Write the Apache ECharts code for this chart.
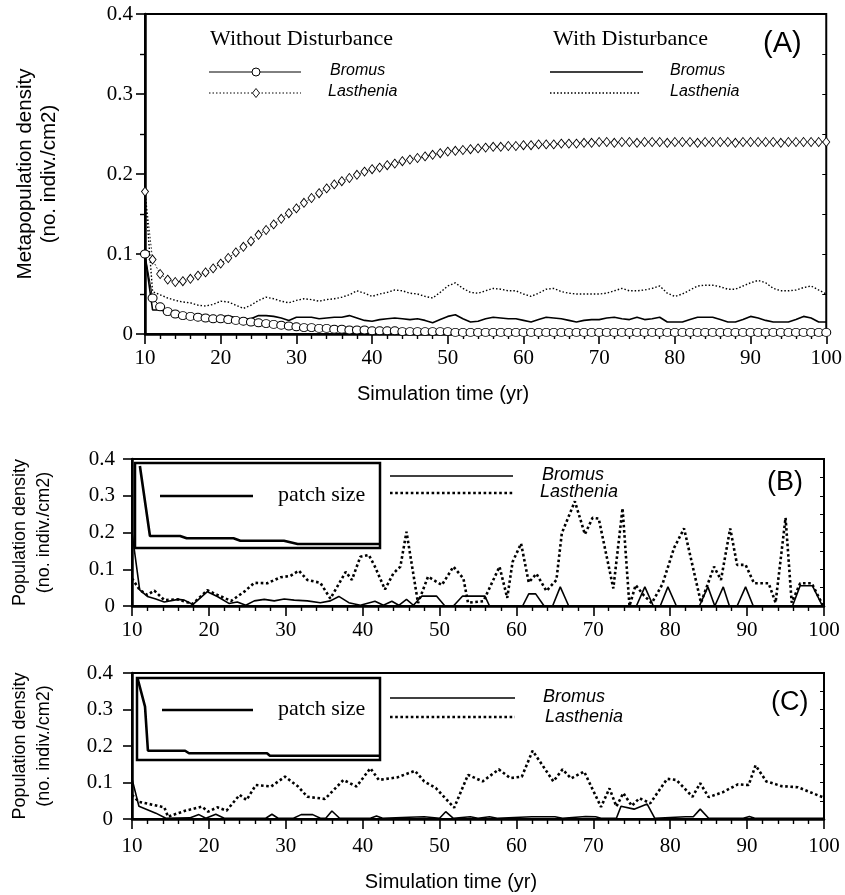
<!DOCTYPE html>
<html><head><meta charset="utf-8">
<script src="https://cdn.jsdelivr.net/npm/echarts@6/dist/echarts.min.js"></script>
<style>html,body{margin:0;padding:0;background:#fff}#c{width:845px;height:895px}</style>
</head><body><div id="c"></div>
<script>
// ---------- Panel A (annual values, years 10..100) ----------
const startYear = 10;
const lastheniaNoDist = [
0.178,0.093,0.075,0.068,0.065,0.066,0.069,0.073,0.077,0.082,
0.088,0.095,0.102,0.109,0.116,0.124,0.130,0.137,0.144,0.151,
0.157,0.164,0.170,0.176,0.182,0.187,0.191,0.195,0.199,0.203,
0.206,0.208,0.211,0.213,0.216,0.218,0.220,0.222,0.224,0.226,
0.228,0.229,0.230,0.231,0.232,0.233,0.234,0.234,0.235,0.235,
0.236,0.236,0.237,0.237,0.237,0.238,0.238,0.238,0.239,0.239,
0.240,0.240,0.239,0.240,0.240,0.239,0.240,0.240,0.240,0.239,
0.240,0.240,0.240,0.239,0.240,0.240,0.240,0.240,0.239,0.240,
0.240,0.240,0.240,0.240,0.239,0.240,0.240,0.240,0.240,0.240,0.240];
const bromusNoDist = [
0.100,0.045,0.034,0.028,0.025,0.023,0.022,0.021,0.020,0.019,
0.019,0.018,0.017,0.016,0.015,0.014,0.013,0.012,0.011,0.010,
0.009,0.008,0.008,0.007,0.007,0.006,0.006,0.005,0.005,0.005,
0.004,0.004,0.004,0.004,0.003,0.003,0.003,0.003,0.003,0.003,
0.003,0.002,0.002,0.002,0.002,0.002,0.002,0.002,0.002,0.002,
0.002,0.002,0.002,0.002,0.002,0.002,0.002,0.002,0.002,0.002,
0.002,0.002,0.002,0.002,0.002,0.002,0.002,0.002,0.002,0.002,
0.002,0.002,0.002,0.002,0.002,0.002,0.002,0.002,0.002,0.002,
0.002,0.002,0.002,0.002,0.002,0.002,0.002,0.002,0.002,0.002,0.002];
const bromusDist = [
0.098,0.030,0.030,0.028,0.024,0.022,0.021,0.021,0.021,0.021,
0.021,0.023,0.020,0.018,0.019,0.023,0.023,0.022,0.020,0.017,
0.021,0.021,0.021,0.019,0.020,0.021,0.021,0.023,0.020,0.017,
0.016,0.018,0.019,0.020,0.019,0.018,0.019,0.017,0.014,0.018,
0.022,0.024,0.019,0.015,0.016,0.019,0.021,0.020,0.019,0.019,
0.017,0.015,0.018,0.021,0.020,0.019,0.017,0.015,0.017,0.018,
0.018,0.020,0.021,0.019,0.018,0.021,0.018,0.019,0.021,0.015,
0.015,0.015,0.018,0.021,0.021,0.021,0.018,0.015,0.015,0.018,
0.022,0.020,0.017,0.015,0.015,0.015,0.018,0.022,0.020,0.015,0.015];
const lastheniaDist = [
0.178,0.053,0.049,0.045,0.042,0.040,0.039,0.036,0.035,0.037,
0.041,0.040,0.036,0.032,0.036,0.042,0.046,0.044,0.041,0.039,
0.042,0.044,0.043,0.041,0.043,0.044,0.046,0.049,0.054,0.051,
0.047,0.050,0.052,0.055,0.054,0.051,0.050,0.047,0.045,0.052,
0.060,0.064,0.057,0.052,0.051,0.054,0.057,0.056,0.054,0.054,
0.050,0.047,0.051,0.056,0.057,0.053,0.051,0.050,0.050,0.050,
0.050,0.051,0.054,0.057,0.054,0.054,0.055,0.057,0.060,0.051,
0.047,0.050,0.055,0.060,0.061,0.061,0.059,0.056,0.056,0.060,
0.064,0.067,0.064,0.057,0.054,0.054,0.055,0.058,0.060,0.055,0.050];

// ---------- Panel B ----------
const bromusB_t = [10,11,12,13,14.2,16,16.8,17.9,19.8,21.1,22.6,23.7,24.8,25.9,27.2,28.5,29.8,31.1,32.8,34.5,35.8,36.9,38.2,39.7,41.6,42.7,43.8,44.7,45.7,46.6,47.7,49.6,50.7,51.8,53.0,55.9,56.5,60.8,61.6,62.5,63.6,64.7,65.7,66.8,75.6,76.7,77.8,78.7,79.7,80.8,83.8,84.9,85.8,86.9,87.7,88.7,89.8,90.8,95.9,96.9,98.5,99.8,100];
const bromusB_v = [0.20,0.044,0.026,0.020,0.011,0.018,0.016,0.004,0.039,0.026,0.007,0.011,0.002,0.014,0.018,0.014,0.019,0.016,0.014,0.009,0.014,0.026,0.009,0.002,0.013,0.002,0.013,0.002,0.018,0.002,0.027,0.027,0,0,0.027,0.027,0,0,0.033,0.033,0,0,0.052,0,0,0.052,0,0,0.052,0,0,0.052,0,0.052,0,0,0.052,0,0,0.055,0.055,0,0];
const lastheniaB_t = [10,11,12,12.9,14.2,16,17.9,19.8,21.1,22.9,24.6,25.9,27.6,29.3,30.6,31.7,32.8,34.5,35.8,37.8,38.6,39.7,40.8,41.6,42.9,44,44.9,45.7,47.2,48.5,50.3,51.8,53.1,53.7,55.7,56.3,57.8,58.8,59.5,60.6,61.6,62.6,63.9,65.2,65.9,67.6,68.9,69.9,70.7,72.6,73.8,74.7,75.5,76.6,77.6,79,80.5,81.8,84,85.7,86.6,87.8,88.7,89.8,90.9,92.8,93.7,95,95.8,96.9,98.4,99.9];
const lastheniaB_v = [0.075,0.044,0.030,0.042,0.016,0.018,0.006,0.043,0.030,0.014,0.039,0.063,0.062,0.078,0.082,0.096,0.071,0.063,0.020,0.093,0.071,0.134,0.139,0.107,0.045,0.089,0.107,0.202,0.008,0.080,0.057,0.107,0.075,0.009,0.013,0.040,0.107,0.022,0.120,0.170,0.064,0.088,0.041,0.071,0.198,0.285,0.195,0.240,0.238,0.048,0.266,0.0,0.057,0.028,0.008,0.060,0.158,0.211,0.009,0.107,0.071,0.211,0.112,0.112,0.062,0.062,0.009,0.240,0.009,0.062,0.062,0.0];

// ---------- Panel C ----------
const bromusC_t = [10,10.9,13.1,14.4,17.5,18.7,19.6,20.9,22,27.4,28.2,29,31,32,33.5,34.5,35.2,36,37,41,41.8,42.6,46,48,50,50.8,51.8,54,55,56.5,57.5,62,65,66,69,70.3,71,73,73.6,75.3,77,78,82,83,83.9,85,89.5,90.3,91,100];
const bromusC_v = [0.11,0.035,0.016,0.002,0.003,0.012,0.002,0.013,0.002,0.002,0.013,0.002,0.002,0.012,0.012,0.002,0.002,0.022,0.002,0.002,0.008,0.002,0.005,0.006,0.002,0.020,0.002,0.006,0.002,0.006,0.002,0.006,0.006,0.002,0.007,0.006,0.002,0.002,0.035,0.027,0.041,0.002,0.006,0.006,0.027,0.002,0.002,0.007,0.002,0.002];
const lastheniaC_t = [10,10.9,12.9,14.2,14.7,15.3,17,19.1,19.9,21.1,22.3,24,24.9,26.1,28.1,29.9,31.6,32.8,35.1,37.5,39.2,41,42.1,44.5,46.8,48,49.5,51.9,53.7,55.6,57.7,59.2,60.7,62.1,64.8,66,67.1,68.8,71,72.1,73,73.9,75,76,77.4,79.6,80.8,82.9,83.9,85,86.8,88.8,90.2,91.1,92.5,94.5,96.6,99.8,100];
const lastheniaC_v = [0.066,0.047,0.038,0.032,0.006,0.011,0.023,0.034,0.020,0.032,0.023,0.066,0.052,0.093,0.089,0.116,0.089,0.061,0.055,0.107,0.089,0.139,0.107,0.114,0.132,0.103,0.085,0.031,0.121,0.103,0.136,0.112,0.116,0.187,0.103,0.136,0.111,0.130,0.033,0.084,0.034,0.071,0.036,0.057,0.043,0.110,0.107,0.061,0.098,0.060,0.073,0.095,0.093,0.147,0.103,0.090,0.087,0.060,0.062];

// ---------- Insets: patch size (relative units 0..100) ----------
const patchB_t = [2.0,6.1,18.4,21.1,40.2,43.0,60.8,66.4,100];
const patchB_v = [96.5,14.1,14.1,11.4,11.4,8.6,8.6,4.7,4.7];
const patchC_t = [0.2,3.3,4.5,19.8,21.4,53.5,54.7,100];
const patchC_v = [100,65,11.3,11.3,8.2,8.2,5.2,5.2];

function yearPairs(vals){ return vals.map((v,i)=>[startYear+i, v]); }
function pairs(t,v){ return t.map((x,i)=>[x, v[i]]); }

const SERIF = 'Liberation Serif';
const SANS = 'Liberation Sans';

function mkX(grid, labelMargin, nameGap, padRight, showName){
  return {
    type:'value', gridIndex:grid, min:10, max:100, interval:10,
    axisLine:{show:true, onZero:false, lineStyle:{color:'#000', width:2.5}},
    axisTick:{show:true, inside:false, length:10, lineStyle:{color:'#000', width:1.6}},
    minorTick:{show:true, splitNumber:5, length:5, lineStyle:{color:'#000', width:1.4}},
    splitLine:{show:false}, minorSplitLine:{show:false},
    axisLabel:{color:'#000', fontFamily:SERIF, fontSize:21, margin:labelMargin},
    name: showName ? 'Simulation time (yr)' : '',
    nameLocation:'middle', nameGap:nameGap,
    nameTextStyle:{color:'#000', fontFamily:SANS, fontSize:20, padding:[0,padRight,0,0]}
  };
}
function mkY(grid, name, nameGap, minor, labelMargin, fs){
  return {
    type:'value', gridIndex:grid, min:0, max:0.4, interval:0.1,
    axisLine:{show:true, onZero:false, lineStyle:{color:'#000', width:2.5}},
    axisTick:{show:true, inside:false, length:9, lineStyle:{color:'#000', width:1.6}},
    minorTick:{show:minor, splitNumber:2, length:5, lineStyle:{color:'#000', width:1.4}},
    splitLine:{show:false}, minorSplitLine:{show:false},
    axisLabel:{color:'#000', fontFamily:SERIF, fontSize:21, margin:labelMargin},
    name:name, nameLocation:'middle', nameRotate:90, nameGap:nameGap,
    nameTextStyle:{color:'#000', fontFamily:SANS, fontSize:fs, lineHeight:24}
  };
}
function mkRightY(grid){
  return {
    type:'value', gridIndex:grid, position:'right', min:0, max:0.4, interval:0.05,
    axisLine:{show:false}, axisLabel:{show:false}, splitLine:{show:false},
    axisTick:{show:true, inside:true, length:4, lineStyle:{color:'#000', width:1}}
  };
}
function mkInsetAxes(grid){
  return [
    {type:'value', gridIndex:grid, min:0, max:100, show:false},
    {type:'value', gridIndex:grid, min:0, max:100, show:false}
  ];
}

const solid = (w)=>({color:'#000', width:w, type:'solid'});
const dotted = (w, d)=>({color:'#000', width:w, type:d});

const insB = mkInsetAxes(3), insC = mkInsetAxes(4);

const option = {
  animation:false,
  backgroundColor:'#fff',
  grid:[
    {left:145, top:14, width:682, height:320, show:true, borderColor:'#000', borderWidth:2},
    {left:129.5, top:459, width:694.5, height:147, show:true, borderColor:'#000', borderWidth:2},
    {left:129.5, top:673, width:694.5, height:146, show:true, borderColor:'#000', borderWidth:2},
    {left:135, top:463, width:245, height:85, show:true, borderColor:'#000', borderWidth:2.5, backgroundColor:'#fff'},
    {left:137, top:678, width:243, height:82, show:true, borderColor:'#000', borderWidth:2.5, backgroundColor:'#fff'}
  ],
  xAxis:[ mkX(0,14,50,85,true), mkX(1,14,40,0,false), mkX(2,17,53,54,true), insB[0], insC[0] ],
  yAxis:[
    mkY(0,'Metapopulation density\n(no. indiv./cm2)',84,true,12,20.5),
    mkY(1,'Population density\n(no. indiv./cm2)',76,false,17,18),
    mkY(2,'Population density\n(no. indiv./cm2)',76,false,19,18),
    insB[1], insC[1],
    mkRightY(0), mkRightY(1), mkRightY(2)
  ],
  series:[
    {name:'Bromus (with disturbance)', type:'line', xAxisIndex:0, yAxisIndex:0, data:yearPairs(bromusDist), symbol:'none', lineStyle:solid(1.6), z:3},
    {name:'Lasthenia (with disturbance)', type:'line', xAxisIndex:0, yAxisIndex:0, data:yearPairs(lastheniaDist), symbol:'none', lineStyle:dotted(1.4,[1.5,2]), z:3},
    {name:'Bromus (without disturbance)', type:'line', xAxisIndex:0, yAxisIndex:0, data:yearPairs(bromusNoDist), symbol:'circle', symbolSize:[9,8], showAllSymbol:true,
      itemStyle:{color:'#fff', borderColor:'#000', borderWidth:1}, lineStyle:solid(1), z:4},
    {name:'Lasthenia (without disturbance)', type:'line', xAxisIndex:0, yAxisIndex:0, data:yearPairs(lastheniaNoDist), symbol:'diamond', symbolSize:[7,9], showAllSymbol:true,
      itemStyle:{color:'#fff', borderColor:'#000', borderWidth:0.9}, lineStyle:dotted(0.9,[1.5,2]), z:4},

    {name:'Bromus B', type:'line', xAxisIndex:1, yAxisIndex:1, data:pairs(bromusB_t,bromusB_v), symbol:'none', lineStyle:solid(1.6), z:3},
    {name:'Lasthenia B', type:'line', xAxisIndex:1, yAxisIndex:1, data:pairs(lastheniaB_t,lastheniaB_v), symbol:'none', lineStyle:dotted(2.6,[2.6,2.6]), z:3},

    {name:'Bromus C', type:'line', xAxisIndex:2, yAxisIndex:2, data:pairs(bromusC_t,bromusC_v), symbol:'none', lineStyle:solid(1.6), z:3},
    {name:'Lasthenia C', type:'line', xAxisIndex:2, yAxisIndex:2, data:pairs(lastheniaC_t,lastheniaC_v), symbol:'none', lineStyle:dotted(2.6,[2.6,2.6]), z:3},

    {name:'patch size B', type:'line', xAxisIndex:3, yAxisIndex:3, data:pairs(patchB_t,patchB_v), symbol:'none', lineStyle:solid(2.6), z:5},
    {name:'patch size C', type:'line', xAxisIndex:4, yAxisIndex:4, data:pairs(patchC_t,patchC_v), symbol:'none', lineStyle:solid(2.6), z:5}
  ],
  graphic:[
    // Panel A legend
    {type:'text', left:210, top:28, style:{text:'Without Disturbance', font:'22px "Liberation Serif"', fill:'#000'}},
    {type:'line', shape:{x1:209,y1:72,x2:301,y2:72}, style:{stroke:'#000', lineWidth:1}},
    {type:'circle', shape:{cx:256,cy:72,r:4}, style:{fill:'#fff', stroke:'#000', lineWidth:1}},
    {type:'text', left:330, top:63, style:{text:'Bromus', font:'italic 16px "Liberation Sans"', fill:'#000'}},
    {type:'line', shape:{x1:209,y1:93,x2:301,y2:93}, style:{stroke:'#000', lineWidth:1, lineDash:[1.5,2]}},
    {type:'polygon', shape:{points:[[256,88.5],[259.5,93],[256,97.5],[252.5,93]]}, style:{fill:'#fff', stroke:'#000', lineWidth:0.9}},
    {type:'text', left:328, top:84, style:{text:'Lasthenia', font:'italic 16px "Liberation Sans"', fill:'#000'}},
    {type:'text', left:553, top:28, style:{text:'With Disturbance', font:'22px "Liberation Serif"', fill:'#000'}},
    {type:'line', shape:{x1:550,y1:72,x2:643,y2:72}, style:{stroke:'#000', lineWidth:1.6}},
    {type:'text', left:670, top:63, style:{text:'Bromus', font:'italic 16px "Liberation Sans"', fill:'#000'}},
    {type:'line', shape:{x1:550,y1:93,x2:640,y2:93}, style:{stroke:'#000', lineWidth:1.4, lineDash:[1.5,2]}},
    {type:'text', left:670, top:84, style:{text:'Lasthenia', font:'italic 16px "Liberation Sans"', fill:'#000'}},
    {type:'text', left:763, top:29, style:{text:'(A)', font:'29px "Liberation Sans"', fill:'#000'}},

    // Panel B legend
    {type:'line', shape:{x1:390,y1:476,x2:513,y2:476}, style:{stroke:'#000', lineWidth:1.6}},
    {type:'line', shape:{x1:390,y1:493,x2:513,y2:493}, style:{stroke:'#000', lineWidth:2.6, lineDash:[2.6,2.6]}},
    {type:'text', left:542, top:466, style:{text:'Bromus', font:'italic 18px "Liberation Sans"', fill:'#000'}},
    {type:'text', left:540, top:483, style:{text:'Lasthenia', font:'italic 18px "Liberation Sans"', fill:'#000'}},
    {type:'text', left:767, top:469, style:{text:'(B)', font:'27px "Liberation Sans"', fill:'#000'}},
    {type:'line', shape:{x1:160,y1:496,x2:253,y2:496}, style:{stroke:'#000', lineWidth:2.6}},
    {type:'text', left:278, top:484, style:{text:'patch size', font:'22px "Liberation Serif"', fill:'#000'}},

    // Panel C legend
    {type:'line', shape:{x1:390,y1:698,x2:515,y2:698}, style:{stroke:'#000', lineWidth:1.6}},
    {type:'line', shape:{x1:390,y1:717,x2:515,y2:717}, style:{stroke:'#000', lineWidth:2.6, lineDash:[2.6,2.6]}},
    {type:'text', left:543, top:688, style:{text:'Bromus', font:'italic 18px "Liberation Sans"', fill:'#000'}},
    {type:'text', left:545, top:708, style:{text:'Lasthenia', font:'italic 18px "Liberation Sans"', fill:'#000'}},
    {type:'text', left:771, top:689, style:{text:'(C)', font:'27px "Liberation Sans"', fill:'#000'}},
    {type:'line', shape:{x1:162,y1:710,x2:253,y2:710}, style:{stroke:'#000', lineWidth:2.6}},
    {type:'text', left:278, top:698, style:{text:'patch size', font:'22px "Liberation Serif"', fill:'#000'}}
  ]
};

const chart = echarts.init(document.getElementById('c'), null, {renderer:'canvas'});
chart.setOption(option);
</script>
</body></html>
